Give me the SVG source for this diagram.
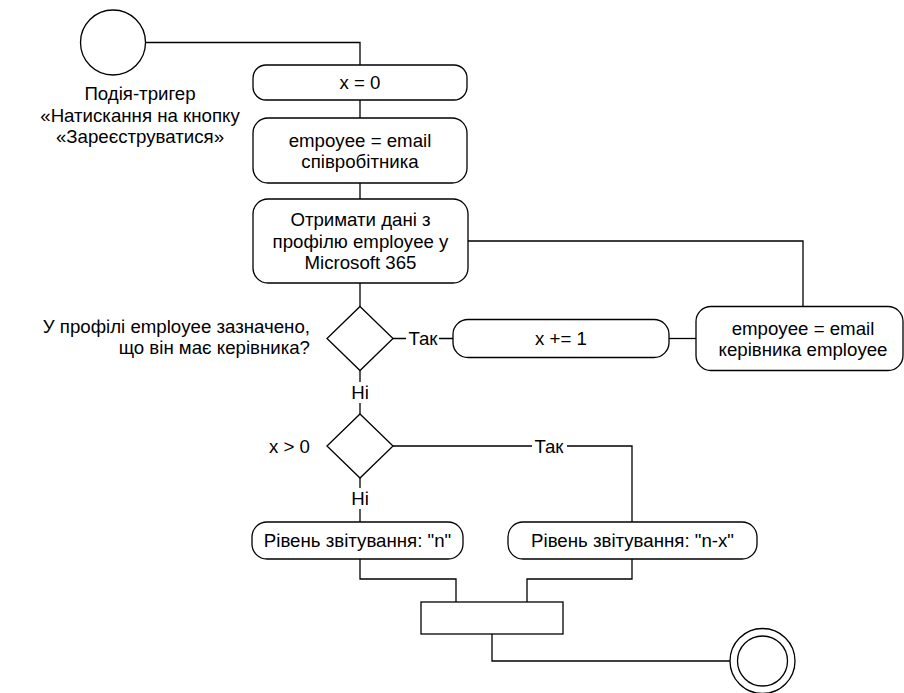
<svg xmlns="http://www.w3.org/2000/svg" width="904" height="693" viewBox="0 0 904 693">
  <style>
    .shape { fill: #ffffff; stroke: #000000; stroke-width: 1.3; }
    .wire { fill: none; stroke: #000000; stroke-width: 1.3; }
    text { font-family: "Liberation Sans", Arial, sans-serif; font-size: 18.67px; fill: #000000; }
    .c { text-anchor: middle; }
    .r { text-anchor: end; }
    .bg { fill: #ffffff; stroke: none; }
  </style>
  <rect x="0" y="0" width="904" height="693" fill="#ffffff"/>

  <!-- connectors -->
  <g id="connectors">
    <path class="wire" d="M145.5 42.5 H360 V65"/>
    <path class="wire" d="M360 100 V118"/>
    <path class="wire" d="M360 183 V199"/>
    <path class="wire" d="M468 241 H803 V306.5"/>
    <path class="wire" d="M360 283 V306.5"/>
    <path class="wire" d="M393 338.5 H453"/>
    <path class="wire" d="M669 338.5 H696"/>
    <path class="wire" d="M360 370.5 V414"/>
    <path class="wire" d="M393 446 H632 V522"/>
    <path class="wire" d="M360 478 V522"/>
    <path class="wire" d="M360 559 V579 H456 V602"/>
    <path class="wire" d="M632 559 V579 H527 V602"/>
    <path class="wire" d="M492 634 V661 H730"/>
    <!-- branch labels -->
    <g id="label-yes-1">
      <rect class="bg" x="406" y="328" width="33" height="21"/>
      <text class="c" x="423" y="345">Так</text>
    </g>
    <g id="label-no-1">
      <rect class="bg" x="350" y="382" width="20" height="21"/>
      <text class="c" x="360" y="399">Ні</text>
    </g>
    <g id="label-yes-2">
      <rect class="bg" x="532" y="436" width="35" height="21"/>
      <text class="c" x="549" y="452.5">Так</text>
    </g>
    <g id="label-no-2">
      <rect class="bg" x="350" y="488" width="20" height="21"/>
      <text class="c" x="360" y="505">Ні</text>
    </g>
  </g>

  <!-- start event -->
  <g id="start">
    <circle class="shape" cx="113" cy="42.5" r="32.5"/>
    <text class="c" x="140" y="100">Подія-тригер</text>
    <text class="c" x="140" y="121.5">«Натискання на кнопку</text>
    <text class="c" x="140" y="143">«Зареєструватися»</text>
  </g>

  <g id="init-x">
    <rect class="shape" x="253" y="65" width="214" height="35" rx="13"/>
    <text class="c" x="360" y="89">x = 0</text>
  </g>

  <g id="set-employee">
    <rect class="shape" x="253" y="118" width="214" height="65" rx="15"/>
    <text class="c" x="360" y="146.5">empoyee = email</text>
    <text class="c" x="360" y="168">співробітника</text>
  </g>

  <g id="fetch-profile">
    <rect class="shape" x="253" y="199" width="215" height="84" rx="15"/>
    <text class="c" x="360.5" y="226">Отримати дані з</text>
    <text class="c" x="360.5" y="247.5">профілю employee у</text>
    <text class="c" x="360.5" y="269">Microsoft 365</text>
  </g>

  <g id="has-manager">
    <polygon class="shape" points="360,306.5 393,338.5 360,370.5 327,338.5"/>
    <text class="r" x="310" y="332.5">У профілі employee зазначено,</text>
    <text class="r" x="310" y="354">що він має керівника?</text>
  </g>

  <g id="increment-x">
    <rect class="shape" x="453" y="319.5" width="216" height="38" rx="15"/>
    <text class="c" x="561" y="345">x += 1</text>
  </g>

  <g id="set-manager">
    <rect class="shape" x="696" y="306.5" width="207" height="64" rx="15"/>
    <text class="c" x="803" y="334.5">empoyee = email</text>
    <text class="c" x="803" y="356">керівника employee</text>
  </g>

  <g id="x-positive">
    <polygon class="shape" points="360,414 393,446 360,478 327,446"/>
    <text class="r" x="310" y="452.5">x &gt; 0</text>
  </g>

  <g id="level-n">
    <rect class="shape" x="252" y="522" width="211" height="37" rx="15"/>
    <text class="c" x="357.5" y="547">Рівень звітування: "n"</text>
  </g>

  <g id="level-n-x">
    <rect class="shape" x="508" y="522" width="249" height="37" rx="15"/>
    <text class="c" x="632.5" y="547">Рівень звітування: "n-x"</text>
  </g>

  <g id="merge">
    <rect class="shape" x="421" y="602" width="142" height="32"/>
  </g>

  <g id="end">
    <circle class="shape" cx="762.5" cy="661" r="32.5"/>
    <circle class="shape" cx="762.5" cy="661" r="25"/>
  </g>
</svg>
